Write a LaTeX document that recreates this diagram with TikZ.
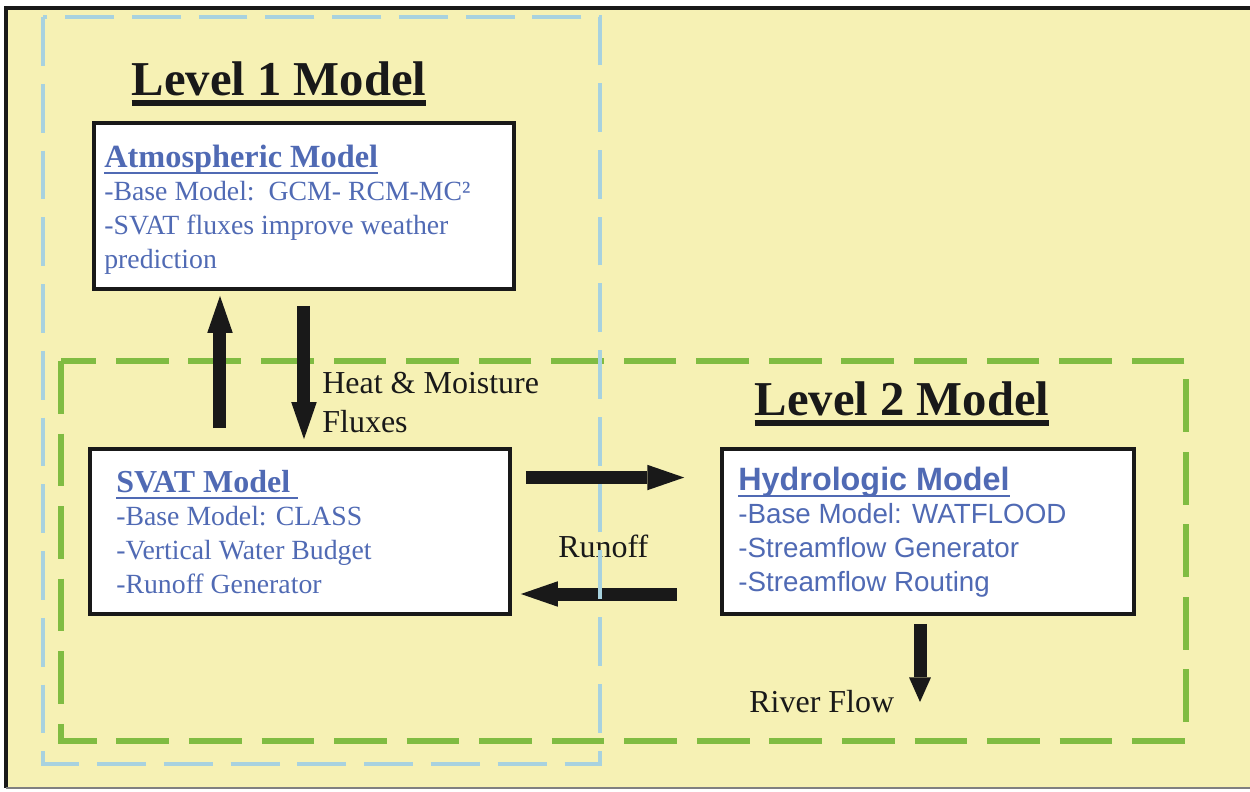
\documentclass[tikz,border=0pt]{standalone}
\usepackage{fontspec}
\setmainfont{Liberation Serif}
\newfontfamily\sansf{Liberation Sans}
\usetikzlibrary{arrows.meta,calc}
\definecolor{bgyellow}{RGB}{246,241,180}
\definecolor{txtblue}{RGB}{80,106,180}
\definecolor{dashblue}{RGB}{168,210,223}
\definecolor{dashgreen}{RGB}{128,188,66}
\definecolor{inkblack}{RGB}{25,25,25}
\newcommand{\myul}[3]{\leavevmode\setbox0=\hbox{#3}\rlap{\rule[-#2]{\wd0}{#1}}\box0}
\tikzset{
  modelbox/.style={draw=inkblack, line width=2.3pt, fill=white, inner sep=0pt, anchor=north west},
  bigarrow/.style={draw=inkblack, line width=7.4pt, -{Triangle[width=14.5pt,length=21pt,line width=0pt]}},
  smallarrow/.style={draw=inkblack, line width=7.4pt, -{Triangle[width=12.5pt,length=14pt,line width=0pt]}},
  bodyserif/.style={text=txtblue, inner sep=0pt, anchor=base west, font=\fontsize{15.8pt}{19.2pt}\selectfont},
  bodysans/.style={text=txtblue, inner sep=0pt, anchor=base west, font=\sansf\fontsize{15.8pt}{19.2pt}\selectfont},
  lbl/.style={text=inkblack, inner sep=0pt, anchor=base west, font=\fontsize{18.2pt}{22.7pt}\selectfont},
  lvltitle/.style={text=inkblack, inner sep=0pt, anchor=base, font=\bfseries\fontsize{27.7pt}{33pt}\selectfont},
  levelone/.style={draw=dashblue, line width=2.8pt, dash pattern=on 27.8pt off 10.2pt},
  leveltwo/.style={draw=dashgreen, line width=3.4pt, dash pattern=on 30pt off 11.3pt}
}
\begin{document}
\begin{tikzpicture}[x=0.02cm,y=-0.02cm]
\useasboundingbox (0,0) rectangle (1250,791);
\fill[white] (0,0) rectangle (1250,791);
\fill[bgyellow] (6,8) rectangle (1250,788);
\draw[inkblack, line width=2.3pt] (4,8) -- (1250,8);
\draw[inkblack, line width=1.8pt] (6,8) -- (6,788);
\draw[gray, line width=0.8pt] (6,788) -- (1250,788);

% level 2 frame
\draw[leveltwo] (61,361) rectangle (1186,741);

% boxes
\node[modelbox, minimum width=8.4cm, minimum height=3.32cm] (atm) at (92,121) {};
\node[modelbox, minimum width=8.4cm, minimum height=3.3cm] (svat) at (88,447) {};
\node[modelbox, minimum width=8.24cm, minimum height=3.3cm] (hyd) at (720,447) {};

% box texts
\node[bodyserif] (atmtext) at ($(atm.north west)+(12,46)$) {\vtop{\baselineskip=19.2pt
  \hbox{\bfseries\fontsize{18.4pt}{19.2pt}\selectfont\myul{1.1pt}{3.8pt}{Atmospheric Model}}
  \hbox{-Base Model:\ \ GCM- RCM-MC²}
  \hbox{-SVAT fluxes improve weather}
  \hbox{prediction}}};
\node[bodyserif] (svattext) at ($(svat.north west)+(28,45)$) {\vtop{\baselineskip=19.2pt
  \hbox{\bfseries\fontsize{18.2pt}{19.2pt}\selectfont\myul{1.1pt}{3.8pt}{SVAT Model\ }}
  \hbox{-Base Model: CLASS}
  \hbox{-Vertical Water Budget}
  \hbox{-Runoff Generator}}};
\node[bodysans] (hydtext) at ($(hyd.north west)+(18,43)$) {\vtop{\baselineskip=19.2pt
  \hbox{\bfseries\fontsize{18.4pt}{19.2pt}\selectfont\myul{1.1pt}{3.8pt}{Hydrologic Model}}
  \hbox{-Base Model: WATFLOOD}
  \hbox{-Streamflow Generator}
  \hbox{-Streamflow Routing}}};

% titles
\node[lvltitle] (lvl1) at (279,95) {\myul{3.2pt}{6.2pt}{Level 1 Model}};
\node[lvltitle] (lvl2) at (902,415) {\myul{3.2pt}{6.2pt}{Level 2 Model}};

% arrows
\draw[bigarrow, shorten <=10.8pt, shorten >=2.8pt] ([xshift=-1.6cm]svat.north) -- ([xshift=-1.6cm]svat.north |- atm.south);
\draw[bigarrow, shorten <=8.5pt, shorten >=4.5pt] (atm.south) -- (atm.south |- svat.north);
\draw[bigarrow, shorten <=7.9pt, shorten >=20.4pt] ([yshift=1.08cm]svat.east) -- ([yshift=1.08cm]hyd.west);
\draw[bigarrow, shorten <=24.4pt, shorten >=5.1pt] ([yshift=-1.25cm]hyd.west) -- ([yshift=-1.25cm]svat.east);
\coordinate (rf) at (920,702);
\draw[smallarrow, shorten <=4.5pt] (hyd.south -| rf) -- (rf);

% labels
\node[lbl] (heat) at (322,393) {\vtop{\baselineskip=22.7pt\hbox{Heat \& Moisture}\hbox{Fluxes}}};
\node[lbl] (runoff) at (558,557) {Runoff};
\node[lbl] (river) at (749,712) {River Flow};

% level 1 frame
\draw[levelone] (43,17) rectangle (600,764);
\end{tikzpicture}
\end{document}
